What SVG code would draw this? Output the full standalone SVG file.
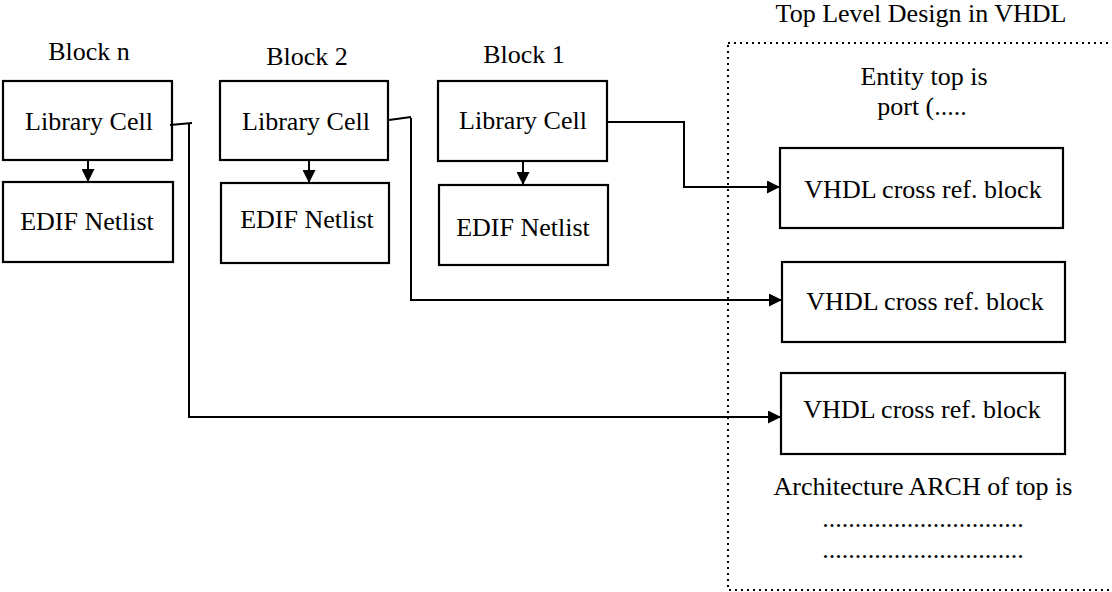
<svg xmlns="http://www.w3.org/2000/svg" width="1112" height="592" viewBox="0 0 1112 592">
<style>
text{font-family:'Liberation Serif','Tinos','Times New Roman','Nimbus Roman','DejaVu Serif',serif;font-size:26px;fill:#000;text-anchor:middle}
.box{fill:#fff;stroke:#000;stroke-width:2.2}
.conn{fill:none;stroke:#000;stroke-width:2}
</style>
<defs>
<marker id="ah" viewBox="0 0 13 13" refX="13" refY="6.5" markerWidth="13" markerHeight="13" markerUnits="userSpaceOnUse" orient="auto">
<path d="M0,0 L13,6.5 L0,13 Z" fill="#000"/>
</marker>
</defs>
<rect width="1112" height="592" fill="#fff"/>
<g id="top-level">
<rect x="728" y="43" width="400" height="547" fill="none" stroke="#000" stroke-width="2" stroke-dasharray="2 4"/>
<text x="921" y="22">Top Level Design in VHDL</text>
<text x="924" y="85">Entity top is</text>
<text x="922" y="115">port (.....</text>
<text x="923" y="495">Architecture ARCH of top is</text>
<text x="923" y="527">...............................</text>
<text x="923" y="558">...............................</text>
</g>
<g id="block-n">
<text x="89" y="60">Block n</text>
<g id="lib-n"><rect class="box" x="3" y="81" width="169" height="79"/><text x="89" y="130">Library Cell</text></g>
<g id="edif-n"><rect class="box" x="3" y="182" width="170" height="80"/><text x="87" y="230">EDIF Netlist</text></g>
</g>
<g id="block-2">
<text x="307" y="65">Block 2</text>
<g id="lib-2"><rect class="box" x="220" y="81" width="168" height="79"/><text x="306" y="130">Library Cell</text></g>
<g id="edif-2"><rect class="box" x="221" y="183" width="168" height="80"/><text x="307" y="228">EDIF Netlist</text></g>
</g>
<g id="block-1">
<text x="524" y="63">Block 1</text>
<g id="lib-1"><rect class="box" x="438" y="81" width="169" height="80"/><text x="523" y="129">Library Cell</text></g>
<g id="edif-1"><rect class="box" x="439" y="185" width="169" height="80"/><text x="523" y="236">EDIF Netlist</text></g>
</g>
<g id="vhdl-1"><rect class="box" x="780" y="148" width="283" height="80"/><text x="923" y="198">VHDL cross ref. block</text></g>
<g id="vhdl-2"><rect class="box" x="782" y="262" width="283" height="80"/><text x="925" y="310">VHDL cross ref. block</text></g>
<g id="vhdl-3"><rect class="box" x="781" y="373" width="284" height="81"/><text x="922" y="418">VHDL cross ref. block</text></g>
<g id="connectors">
<path class="conn" d="M88,160 V182" marker-end="url(#ah)"/>
<path class="conn" d="M309,160 V183" marker-end="url(#ah)"/>
<path class="conn" d="M523,161 V185" marker-end="url(#ah)"/>
<path class="conn" d="M607,122 H684 V187 H780" marker-end="url(#ah)"/>
<path class="conn" d="M389,120 L411,117"/>
<path class="conn" d="M411,118 V300 H782" marker-end="url(#ah)"/>
<path class="conn" d="M170,125 L192,123"/>
<path class="conn" d="M189,123 V417 H781" marker-end="url(#ah)"/>
</g>
</svg>
